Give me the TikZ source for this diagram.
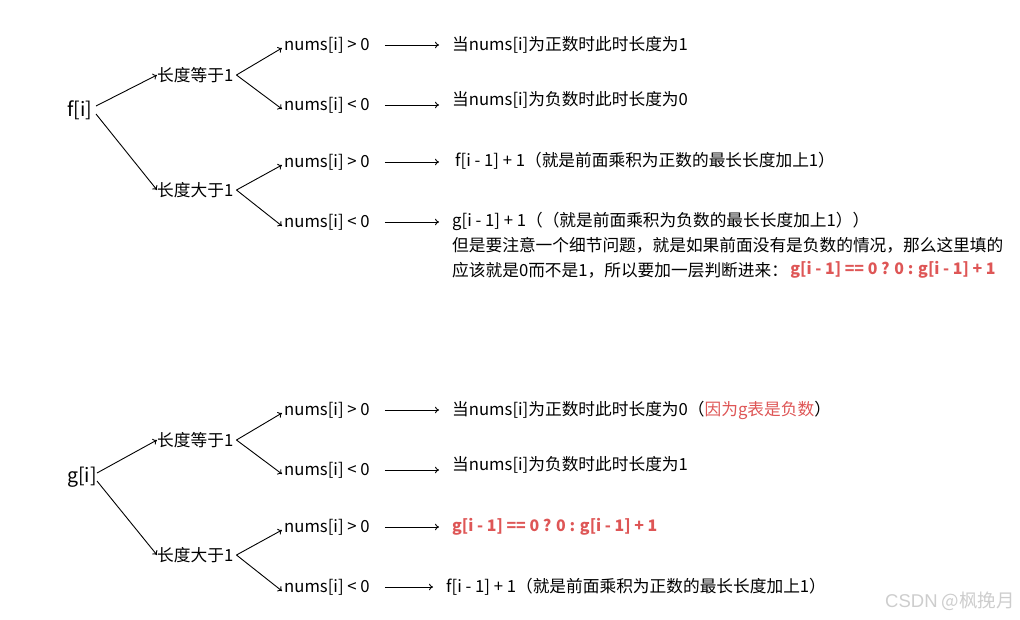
\documentclass[tikz,border=0pt]{standalone}
\usepackage{fontspec}
\setmainfont{Noto Sans CJK SC}
\newfontfamily\wmfont{Liberation Sans}
\usetikzlibrary{arrows.meta}
\definecolor{redtxt}{RGB}{222,86,86}
\definecolor{wmgray}{RGB}{205,205,205}
\tikzset{
  txt/.style={anchor=west, inner sep=0pt, font=\fontsize{16.7}{20}\selectfont},
  big/.style={anchor=west, inner sep=0pt, font=\fontsize{19.5}{22}\selectfont},
  conn/.style={-{To[length=4pt,width=6.5pt]}, line width=0.9pt},
  hconn/.style={-{To[length=4pt,width=6.5pt]}, line width=0.9pt, shorten <=15pt, shorten >=13pt},
  redb/.style={txt, text=redtxt, font=\fontsize{15.9}{20}\selectfont\bfseries},
}
\begin{document}
\begin{tikzpicture}[x=1pt,y=-1pt]
\useasboundingbox (0,0) rectangle (1020,619);
% ---------- f[i] tree ----------
\node[big] (f) at (67,110) {f[i]};
\node[txt] (feq) at (157,75) {长度等于1};
\node[txt] (fgt) at (157,190) {长度大于1};
\node[txt] (fn1) at (284,45) {nums[i] > 0};
\node[txt] (fn2) at (284,105) {nums[i] < 0};
\node[txt] (fn3) at (284,162) {nums[i] > 0};
\node[txt] (fn4) at (284,222) {nums[i] < 0};
\node[txt] (ft1) at (452,45) {当nums[i]为正数时此时长度为1};
\node[txt] (ft2) at (452,100) {当nums[i]为负数时此时长度为0};
\node[txt] (ft3) at (455,161) {f[i - 1] + 1（就是前面乘积为正数的最长长度加上1）};
\node[txt] (ft4) at (452,221) {g[i - 1] + 1（（就是前面乘积为负数的最长长度加上1））};
\node[txt] (ft5) at (452,245) {但是要注意一个细节问题，就是如果前面没有是负数的情况，那么这里填的};
\node[txt] (ft6) at (452,270) {应该就是0而不是1，所以要加一层判断进来：};
\node[redb] (ft7) at ([xshift=2pt]ft6.east) {g[i - 1] == 0 ? 0 : g[i - 1] + 1};
\draw[conn] (96,106) -- (feq.west);
\draw[conn] (96,114) -- (fgt.west);
\draw[conn] ([xshift=3pt]feq.east) -- ([xshift=-2pt,yshift=-3pt]fn1.west);
\draw[conn] ([xshift=3pt]feq.east) -- ([xshift=-2pt,yshift=-4pt]fn2.west);
\draw[conn] ([xshift=3pt]fgt.east) -- ([xshift=-2pt,yshift=-3pt]fn3.west);
\draw[conn] ([xshift=3pt]fgt.east) -- ([xshift=-2pt,yshift=-4pt]fn4.west);
\draw[hconn] (fn1.east) -- (fn1.east -| ft1.west);
\draw[hconn] (fn2.east) -- (fn2.east -| ft2.west);
\draw[hconn] (fn3.east) -- (fn3.east -| ft1.west);
\draw[hconn] (fn4.east) -- (fn4.east -| ft4.west);
% ---------- g[i] tree ----------
\node[big] (g) at (67,477) {g[i]};
\node[txt] (geq) at (157,440) {长度等于1};
\node[txt] (ggt) at (157,555) {长度大于1};
\node[txt] (gn1) at (284,410) {nums[i] > 0};
\node[txt] (gn2) at (284,470) {nums[i] < 0};
\node[txt] (gn3) at (284,527) {nums[i] > 0};
\node[txt] (gn4) at (284,587) {nums[i] < 0};
\node[txt] (gt1) at (452,410) {当nums[i]为正数时此时长度为0（\textcolor{redtxt}{因为g表是负数}）};
\node[txt] (gt2) at (452,465) {当nums[i]为负数时此时长度为1};
\node[redb] (gt3) at (452,527) {g[i - 1] == 0 ? 0 : g[i - 1] + 1};
\node[txt] (gt4) at (446,587) {f[i - 1] + 1（就是前面乘积为正数的最长长度加上1）};
\draw[conn] (97,473) -- (geq.west);
\draw[conn] (97,481) -- (ggt.west);
\draw[conn] ([xshift=3pt]geq.east) -- ([xshift=-2pt,yshift=-3pt]gn1.west);
\draw[conn] ([xshift=3pt]geq.east) -- ([xshift=-2pt,yshift=-4pt]gn2.west);
\draw[conn] ([xshift=3pt]ggt.east) -- ([xshift=-2pt,yshift=-3pt]gn3.west);
\draw[conn] ([xshift=3pt]ggt.east) -- ([xshift=-2pt,yshift=-4pt]gn4.west);
\draw[hconn] (gn1.east) -- (gn1.east -| gt1.west);
\draw[hconn] (gn2.east) -- (gn2.east -| gt2.west);
\draw[hconn] (gn3.east) -- (gn3.east -| gt3.west);
\draw[hconn] (gn4.east) -- (gn4.east -| gt4.west);
% watermark
\node[anchor=east, inner sep=0pt, text=wmgray, font=\fontsize{18.5}{20}\selectfont] (wm) at (1015,601) {{\wmfont CSDN} @枫挽月};
\end{tikzpicture}
\end{document}
